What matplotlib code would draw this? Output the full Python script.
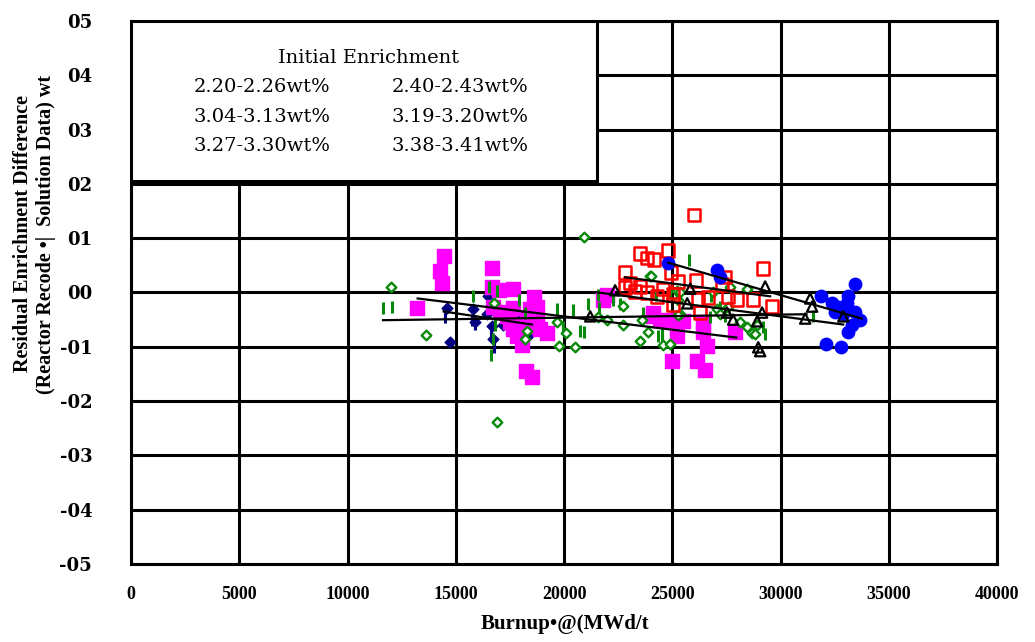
import numpy as np
import matplotlib
matplotlib.use("Agg")
import matplotlib.pyplot as plt
from matplotlib.patches import Rectangle

# --- dane (Burnup [MWd/t], roznica [wt%]) ---
navy_x = [14600, 14740, 15800, 15890, 16490, 16450, 16680, 16720, 17190, 17970, 18340]
navy_y = [-0.028, -0.092, -0.031, -0.055, -0.007, -0.040, -0.062, -0.086, -0.059, -0.044, -0.081]

navy_dash_x = [14510, 15750, 15900, 16650, 16750, 18000]
navy_dash_y = [-0.045, -0.050, -0.058, -0.070, -0.100, -0.050]

magenta_x = [13210, 14270, 14360, 14460, 16680, 16680, 17000, 17640, 18610, 18750,
             16720, 17050, 17370, 17510, 17650, 17830, 18060, 18290, 18570, 18900,
             19220, 18760, 18430, 17650, 17970, 18240, 18520, 21810, 21990,
             24120, 24440, 25220, 25500, 25220, 26430, 26430, 26610, 24990, 26150,
             26520, 27900, 24120, 25040]
magenta_y = [-0.028, 0.039, 0.017, 0.068, 0.046, 0.011, 0.004, 0.007, -0.009, -0.026,
             -0.026, -0.035, -0.044, -0.055, -0.068, -0.081, -0.096, -0.050, -0.062, -0.068,
             -0.074, -0.044, -0.031, -0.028, -0.062, -0.145, -0.156, -0.013, -0.004,
             -0.037, -0.050, -0.053, -0.053, -0.081, -0.055, -0.072, -0.099, -0.127, -0.127,
             -0.142, -0.072, -0.044, -0.050]

red_x = [26010, 24810, 23520, 23840, 24160, 22820, 24950, 29200, 27440, 26100,
         23050, 23520, 24580, 23840, 25040, 26200, 26660, 27580, 28000, 28740,
         29610, 25040, 26290, 27300, 24300, 22820, 23280, 25270]
red_y = [0.143, 0.077, 0.072, 0.064, 0.061, 0.037, 0.037, 0.044, 0.029, 0.022,
         0.018, 0.011, 0.006, 0.000, -0.004, -0.013, -0.009, -0.007, -0.013, -0.013,
         -0.026, -0.022, -0.037, 0.015, -0.007, 0.009, 0.002, 0.020]

gdash_x = [11640, 12060, 16540, 16910, 15800, 17930, 19680, 18200, 20420, 16820,
           19960, 20740, 20930, 16720, 16630, 21110, 21580, 21620, 22270, 22590,
           25780, 23650, 24350, 24530, 26800, 27210, 26750, 27440, 29200, 29290,
           24260, 24900, 31510, 24530]
gdash_y = [-0.028, -0.026, 0.011, 0.002, -0.007, -0.013, -0.031, -0.037, -0.033, -0.059,
           -0.064, -0.070, -0.072, -0.086, -0.116, -0.022, -0.004, -0.028, -0.013, -0.022,
           0.059, -0.037, -0.081, -0.083, -0.007, -0.026, -0.046, -0.044, -0.064, -0.077,
           -0.004, 0.000, -0.044, -0.077]

gdiam_x = [12010, 13610, 16910, 20930, 16770, 19680, 18290, 18200, 20100, 19770,
           20510, 21580, 21990, 23980, 22730, 22730, 23520, 24580, 24900, 23610,
           25230, 25270, 25360, 26890, 27670, 28460, 27070, 27580, 28140, 28460,
           28690, 28830, 28920, 27210, 24020, 25360, 25270, 23890]
gdiam_y = [0.010, -0.079, -0.239, 0.103, -0.020, -0.055, -0.070, -0.085, -0.074, -0.099,
           -0.101, -0.046, -0.050, 0.031, -0.024, -0.059, -0.090, -0.097, -0.094, -0.050,
           0.002, -0.013, -0.040, 0.000, 0.011, 0.006, -0.031, -0.026, -0.055, -0.064,
           -0.074, -0.077, -0.059, -0.040, 0.031, 0.000, -0.042, -0.072]

blue_x = [33450, 31880, 33130, 33080, 32390, 32660, 32850, 32530, 33450, 33680,
          33310, 33130, 32110, 32800, 32900, 24810, 27070, 27210]
blue_y = [0.015, -0.006, -0.006, -0.020, -0.020, -0.026, -0.031, -0.035, -0.035, -0.051,
          -0.059, -0.072, -0.094, -0.101, -0.040, 0.055, 0.042, 0.028]

tri_x = [22360, 21210, 25830, 25690, 27530, 27810, 28920, 29290, 29150, 28970,
         29060, 31370, 31460, 31140, 32900]
tri_y = [0.004, -0.044, 0.007, -0.020, -0.037, -0.050, -0.053, 0.011, -0.037, -0.101,
         -0.108, -0.011, -0.026, -0.048, -0.044]

# linie trendu: poczatek i koniec
trend_x0 = [13240, 11640, 14440, 22820, 24810, 21570]
trend_x1 = [27960, 31200, 18520, 29520, 33750, 32900]
trend_y0 = [-0.011, -0.051, -0.035, 0.028, 0.055, 0.000]
trend_y1 = [-0.083, -0.040, -0.059, -0.007, -0.048, -0.059]

legend_title = "Initial Enrichment"
legend_labels = ["2.20-2.26wt%", "2.40-2.43wt%",
                 "3.04-3.13wt%", "3.19-3.20wt%",
                 "3.27-3.30wt%", "3.38-3.41wt%"]

x_ticks = np.arange(0, 40001, 5000)
y_ticks = np.round(np.arange(-0.5, 0.51, 0.1), 1)
y_tick_labels = ["-05", "-04", "-03", "-02", "-01", "00", "01", "02", "03", "04", "05"]

GREEN = "#0a8a0a"

fig = plt.figure(figsize=(10.35, 6.42), dpi=100)
ax = fig.add_axes([0.1266, 0.1215, 0.8367, 0.8458])

ax.scatter(navy_x, navy_y, marker="D", s=30, color="#000080", zorder=3)
ax.scatter(navy_dash_x, navy_dash_y, marker="|", s=70, linewidths=2.2, color="#000080", zorder=3)
ax.scatter(magenta_x, magenta_y, marker="s", s=90, color="#ff00ff", zorder=3)
ax.scatter(gdash_x, gdash_y, marker="|", s=80, linewidths=2.2, color=GREEN, zorder=4)
ax.scatter(gdiam_x, gdiam_y, marker="D", s=24, facecolors="white", edgecolors=GREEN,
           linewidths=1.7, zorder=4)
ax.scatter(red_x, red_y, marker="s", s=80, facecolors="none", edgecolors="#ff0000",
           linewidths=1.8, zorder=5)
ax.scatter(blue_x, blue_y, marker="o", s=80, color="#0000ff", zorder=5)
ax.scatter(tri_x, tri_y, marker="^", s=55, facecolors="none", edgecolors="black",
           linewidths=1.6, zorder=6)

for x0, x1, y0, y1 in zip(trend_x0, trend_x1, trend_y0, trend_y1):
    ax.plot([x0, x1], [y0, y1], color="black", lw=1.6, zorder=7)

ax.set_xlim(0, 40000)
ax.set_ylim(-0.5, 0.5)
ax.set_xticks(x_ticks)
ax.set_yticks(y_ticks)
ax.set_yticklabels(y_tick_labels)
ax.grid(True, color="black", lw=2.2)
ax.set_axisbelow(True)
for sp in ax.spines.values():
    sp.set_linewidth(2.2)
ax.tick_params(length=0)
ax.tick_params(axis="x", pad=16)
ax.tick_params(axis="y", pad=28)
for lab in ax.get_xticklabels():
    lab.set_fontfamily("Liberation Serif")
    lab.set_fontweight("bold")
    lab.set_fontsize(13)
for lab in ax.get_yticklabels():
    lab.set_fontfamily("DejaVu Serif")
    lab.set_fontweight("bold")
    lab.set_fontsize(13)

# legenda bez symboli - ramka z tekstem
ax.add_patch(Rectangle((0, 0.705), 0.538, 0.295, transform=ax.transAxes,
                       facecolor="white", edgecolor="black", lw=2.2, zorder=10))
ax.text(0.274, 0.932, legend_title, transform=ax.transAxes, ha="center", va="center",
        family="DejaVu Serif", fontsize=14, zorder=11)
rows_y = [0.878, 0.823, 0.769]
for i, lab in enumerate(legend_labels):
    cx = 0.072 if i % 2 == 0 else 0.301
    ax.text(cx, rows_y[i // 2], lab, transform=ax.transAxes, ha="left", va="center",
            family="DejaVu Serif", fontsize=14, zorder=11)

fig.text(0.546, 1 - 624 / 642, "Burnup•@(MWd/t", ha="center", va="center",
         family="Liberation Serif", fontweight="bold", fontsize=15)
fig.text(0.033, 1 - 234 / 642,
         "Residual Enrichment Difference\n(Reactor Recode •|  Solution Data) wt",
         rotation=90, ha="center", va="center", family="Liberation Serif",
         fontweight="bold", fontsize=14.5, linespacing=1.2)

fig.savefig("out.png", dpi=100)
